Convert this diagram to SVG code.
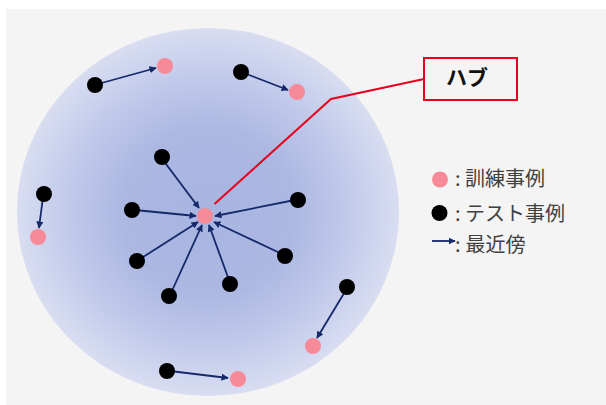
<svg xmlns="http://www.w3.org/2000/svg" width="606" height="405" viewBox="0 0 606 405">
<defs>
<radialGradient id="g" cx="0.5" cy="0.5" r="0.5">
<stop offset="0" stop-color="#a8b5e1"/>
<stop offset="0.45" stop-color="#acb8e2"/>
<stop offset="0.75" stop-color="#c3cbeb"/>
<stop offset="1" stop-color="#d8ddf1"/>
</radialGradient>
<marker id="ah" viewBox="0 0 10 10" refX="9" refY="5" markerWidth="4" markerHeight="4" orient="auto" markerUnits="strokeWidth">
<path d="M0,0 L10,5 L0,10 z" fill="#14286a"/>
</marker>
<style>
.bk{fill:#000}
.pk{fill:#f68a98}
.ar{stroke:#14286a;stroke-width:1.8;fill:none;marker-end:url(#ah)}
.lb{font-family:"Noto Sans CJK JP","Noto Sans",sans-serif;font-size:20px;fill:#404040}
</style>
</defs>
<rect x="0" y="0" width="606" height="405" fill="#ffffff"/>
<rect x="6" y="9" width="600" height="396" fill="#f4f4f4"/>
<ellipse id="space" cx="208" cy="212" rx="191" ry="184" fill="url(#g)"/>
<g id="connectors">
<line class="ar" x1="163" y1="160" x2="199" y2="208"/>
<line class="ar" x1="135" y1="210" x2="196" y2="216"/>
<line class="ar" x1="295" y1="200" x2="215" y2="216"/>
<line class="ar" x1="140" y1="259" x2="198" y2="222"/>
<line class="ar" x1="282" y1="254" x2="214" y2="222"/>
<line class="ar" x1="171" y1="293" x2="202" y2="225"/>
<line class="ar" x1="229" y1="280" x2="209" y2="225"/>
<line class="ar" x1="98" y1="84" x2="156" y2="68"/>
<line class="ar" x1="244" y1="73" x2="288" y2="90"/>
<line class="ar" x1="43" y1="197" x2="39" y2="228"/>
<line class="ar" x1="346" y1="290" x2="317" y2="338"/>
<line class="ar" x1="170" y1="371" x2="228" y2="378"/>
<polyline points="214.5,204 331,99 424,79" fill="none" stroke="#e8001e" stroke-width="2"/>
</g>
<g id="hub"><circle class="pk" cx="205" cy="216" r="8"/></g>
<g id="test-nodes">
<circle class="bk" cx="162" cy="157" r="8"/>
<circle class="bk" cx="132" cy="210" r="8"/>
<circle class="bk" cx="298" cy="200" r="8"/>
<circle class="bk" cx="137" cy="261" r="8"/>
<circle class="bk" cx="285" cy="256" r="8"/>
<circle class="bk" cx="169" cy="296" r="8"/>
<circle class="bk" cx="230" cy="284" r="8"/>
<circle class="bk" cx="95" cy="85" r="8"/>
<circle class="bk" cx="241" cy="72" r="8"/>
<circle class="bk" cx="44" cy="194" r="8"/>
<circle class="bk" cx="347" cy="287" r="8"/>
<circle class="bk" cx="167" cy="371" r="8"/>
</g>
<g id="train-nodes">
<circle class="pk" cx="165" cy="66" r="8"/>
<circle class="pk" cx="297" cy="92" r="8"/>
<circle class="pk" cx="38" cy="237" r="8"/>
<circle class="pk" cx="313" cy="346" r="8"/>
<circle class="pk" cx="238" cy="379" r="8"/>
</g>
<g id="hub-label">
<rect x="424" y="58" width="93" height="42" fill="#f4f4f4" stroke="#e8001e" stroke-width="2"/>
<text x="467" y="85" text-anchor="middle" style="font-family:'Noto Sans CJK JP',sans-serif;font-size:21px;font-weight:bold;fill:#111">ハブ</text>
</g>
<g id="legend">
<circle class="pk" cx="440" cy="179.5" r="8"/>
<text class="lb" x="455" y="186">: 訓練事例</text>
<circle class="bk" cx="439.5" cy="213" r="8"/>
<text class="lb" x="455" y="221">: テスト事例</text>
<line class="ar" x1="432" y1="241" x2="455" y2="241"/>
<text class="lb" x="455" y="252">:<tspan dx="5">最近傍</tspan></text>
</g>
</svg>
